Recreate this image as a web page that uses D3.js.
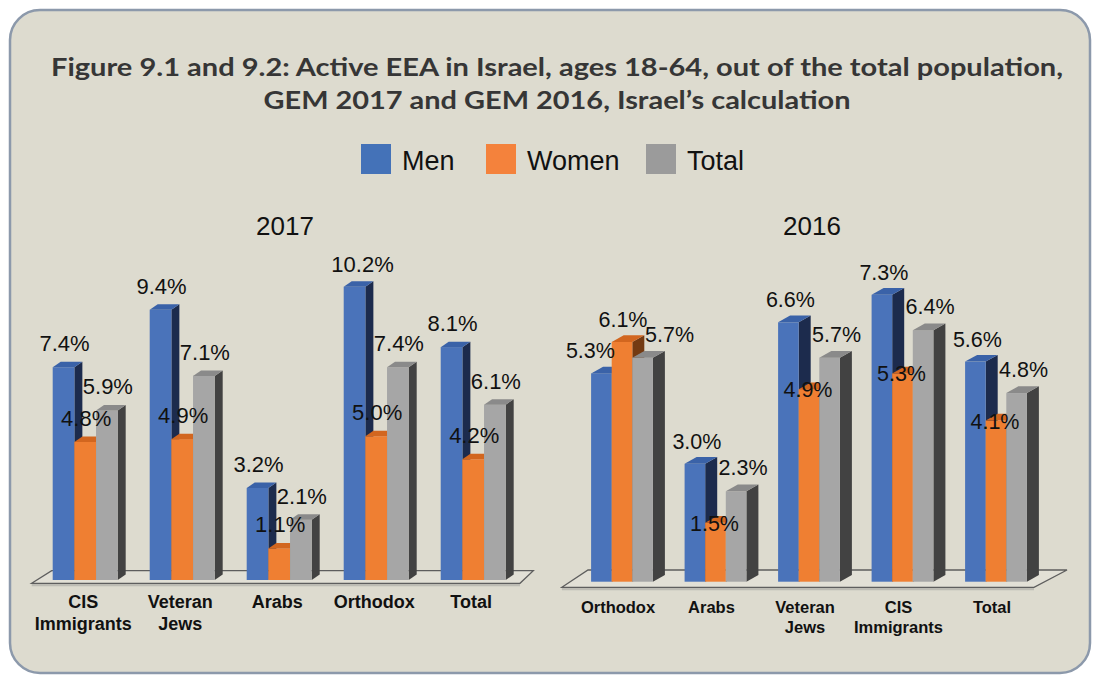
<!DOCTYPE html>
<html>
<head>
<meta charset="utf-8">
<script src="https://cdn.jsdelivr.net/npm/d3@7"></script>
<style>
  html, body { margin: 0; padding: 0; background: #ffffff; }
  svg { display: block; }
</style>
</head>
<body>
<svg id="chart" width="1093" height="675"></svg>
<script>
// ---------------- DATA ----------------
const seriesNames = ["Men", "Women", "Total"];

const categories2017 = ["CIS Immigrants", "Veteran Jews", "Arabs", "Orthodox", "Total"];
const men2017   = [7.4, 9.4, 3.2, 10.2, 8.1];
const women2017 = [4.8, 4.9, 1.1, 5.0, 4.2];
const total2017 = [5.9, 7.1, 2.1, 7.4, 6.1];

const categories2016 = ["Orthodox", "Arabs", "Veteran Jews", "CIS Immigrants", "Total"];
const men2016   = [5.3, 3.0, 6.6, 7.3, 5.6];
const women2016 = [6.1, 1.5, 4.9, 5.3, 4.1];
const total2016 = [5.7, 2.3, 5.7, 6.4, 4.8];

const titleLines = [
  "Figure 9.1 and 9.2: Active EEA in Israel, ages 18-64, out of the total population,",
  "GEM 2017 and GEM 2016, Israel\u2019s calculation"
];

// ---------------- STYLE ----------------
const colors = {
  Men:   { front: "#4a73ba", top: "#3a62a8", side: "#1c2b4d", legend: "#4472b8" },
  Women: { front: "#ef7f32", top: "#d2661f", side: "#733a12", legend: "#f4823c" },
  Total: { front: "#a6a6a6", top: "#8a8a8a", side: "#424242", legend: "#9b9b9b" }
};

const svg = d3.select("#chart");

// frame
svg.append("rect")
  .attr("x", 10).attr("y", 10).attr("width", 1080).attr("height", 663)
  .attr("rx", 30).attr("ry", 30)
  .attr("fill", "#dddbcf").attr("stroke", "#8c99ab").attr("stroke-width", 2.5);

// title
const titleG = svg.append("g");
const titleWidths = [1012, 587];
titleLines.forEach((t, i) => {
  titleG.append("text")
    .attr("x", 557).attr("y", 76 + i * 33)
    .attr("text-anchor", "middle")
    .attr("font-family", "Lato, 'Open Sans', sans-serif")
    .attr("font-weight", 700)
    .attr("font-size", 25)
    .attr("fill", "#363636")
    .attr("textLength", titleWidths[i])
    .attr("lengthAdjust", "spacingAndGlyphs")
    .text(t);
});

// legend
const legendX = [361, 486, 646];
const legendG = svg.append("g");
seriesNames.forEach((s, i) => {
  legendG.append("rect")
    .attr("x", legendX[i]).attr("y", 144).attr("width", 30).attr("height", 30)
    .attr("fill", colors[s].legend);
  legendG.append("text")
    .attr("x", legendX[i] + 41).attr("y", 170)
    .attr("font-family", "'Liberation Sans', Arial, sans-serif")
    .attr("font-size", 27)
    .attr("fill", "#111")
    .text(s);
});

// ---------------- CHART BUILDER ----------------
function drawChart(cfg) {
  const g = svg.append("g");
  const data = cfg.categories.map((c, i) => ({
    cat: c,
    vals: seriesNames.map((s, j) => ({ series: s, value: cfg.values[j][i] }))
  }));

  const x = d3.scaleBand().domain(cfg.categories)
    .range(cfg.xRange).paddingInner(cfg.padInner).paddingOuter(0);
  const xs = d3.scaleBand().domain(seriesNames).range([0, x.bandwidth()]).padding(0);
  const y = d3.scaleLinear().domain([0, 10]).range(cfg.yRange);
  const y0 = y(0);
  const dx = cfg.depth[0], dy = cfg.depth[1];

  // year title
  g.append("text")
    .attr("x", cfg.yearX).attr("y", 235)
    .attr("text-anchor", "middle")
    .attr("font-family", "'Liberation Sans', Arial, sans-serif")
    .attr("font-size", 26).attr("fill", "#111")
    .text(cfg.year);

  // floor
  const f = cfg.floor;
  g.append("polygon")
    .attr("points", [[f.x0, f.yFront + 3], [f.x0, f.yFront], [f.x1, f.yBack], [f.x2, f.yBack], [f.x3, f.yFront], [f.x3, f.yFront + 3]].map(p => p.join(",")).join(" "))
    .attr("fill", "#bdbcb4");
  g.append("polygon")
    .attr("points", [[f.x0, f.yFront], [f.x1, f.yBack], [f.x2, f.yBack], [f.x3, f.yFront]].map(p => p.join(",")).join(" "))
    .attr("fill", "#e2e0d6").attr("stroke", "#5e5e5e").attr("stroke-width", 1.3);

  // bars
  const groups = g.selectAll("g.grp").data(data).join("g")
    .attr("class", "grp")
    .attr("transform", d => `translate(${x(d.cat)},0)`);

  const bars = groups.selectAll("g.bar").data(d => d.vals).join("g").attr("class", "bar");
  const w = xs.bandwidth();

  bars.each(function (d) {
    const b = d3.select(this);
    const x0 = xs(d.series);
    const yt = y(d.value);
    const c = colors[d.series];
    b.append("polygon")
      .attr("points", [[x0 + w, yt], [x0 + w + dx, yt - dy], [x0 + w + dx, y0 - dy], [x0 + w, y0]].map(p => p.join(",")).join(" "))
      .attr("fill", c.side);
    b.append("rect")
      .attr("x", x0).attr("y", yt).attr("width", w).attr("height", y0 - yt)
      .attr("fill", c.front);
    b.append("polygon")
      .attr("points", [[x0, yt], [x0 + dx, yt - dy], [x0 + w + dx, yt - dy], [x0 + w, yt]].map(p => p.join(",")).join(" "))
      .attr("fill", c.top);
  });

  // value labels
  const lbl = g.append("g");
  data.forEach(d => {
    d.vals.forEach(v => {
      const nudge = cfg.nudge(d.cat, v.series);
      lbl.append("text")
        .attr("x", x(d.cat) + xs(v.series) + w / 2 + nudge[0])
        .attr("y", y(v.value) + nudge[1])
        .attr("text-anchor", "middle")
        .attr("font-family", "'Liberation Sans', Arial, sans-serif")
        .attr("font-size", cfg.labelSize)
        .attr("fill", "#111")
        .text(d3.format(".1f")(v.value) + "%");
    });
  });

  // category labels
  data.forEach(d => {
    const words = d.cat.split(" ");
    const cx = x(d.cat) + x.bandwidth() / 2 + cfg.catDx;
    words.forEach((wd, i) => {
      g.append("text")
        .attr("x", cx).attr("y", cfg.catY + i * cfg.catLine)
        .attr("text-anchor", "middle")
        .attr("font-family", "'Liberation Sans', Arial, sans-serif")
        .attr("font-weight", 700)
        .attr("font-size", cfg.catSize)
        .attr("fill", "#111")
        .text(wd);
    });
  });
}

drawChart({
  year: "2017",
  yearX: 285,
  categories: categories2017,
  values: [men2017, women2017, total2017],
  xRange: [52.7, 505.7],
  padInner: 0.33,
  yRange: [580, 292.5],
  depth: [8, 5.5],
  floor: { x0: 31.7, x1: 51.7, x2: 533.3, x3: 520, yFront: 583.3, yBack: 570.7 },
  labelSize: 22,
  nudge: (cat, s) => (cat === "Orthodox" && s === "Men") ? [8, -15] : [1, -16],
  catY: 608, catLine: 22, catSize: 18, catDx: -2
});

const nudge2016 = {
  Orthodox: { Men: [-11, -15], Women: [1, -15], Total: [27, -16] },
  other:    { Men: [2, -15],   Women: [-1, 8],  Total: [7, -16] }
};

drawChart({
  year: "2016",
  yearX: 812,
  categories: categories2016,
  values: [men2016, women2016, total2016],
  xRange: [591.1, 1026.9],
  padInner: 0.339,
  yRange: [581.7, 188.7],
  depth: [12, 6.7],
  floor: { x0: 561.9, x1: 588, x2: 1067, x3: 1034, yFront: 587.3, yBack: 570 },
  labelSize: 21.5,
  nudge: (cat, s) => (nudge2016[cat] || nudge2016.other)[s],
  catY: 613, catLine: 20, catSize: 16.5, catDx: -4
});
</script>
</body>
</html>
